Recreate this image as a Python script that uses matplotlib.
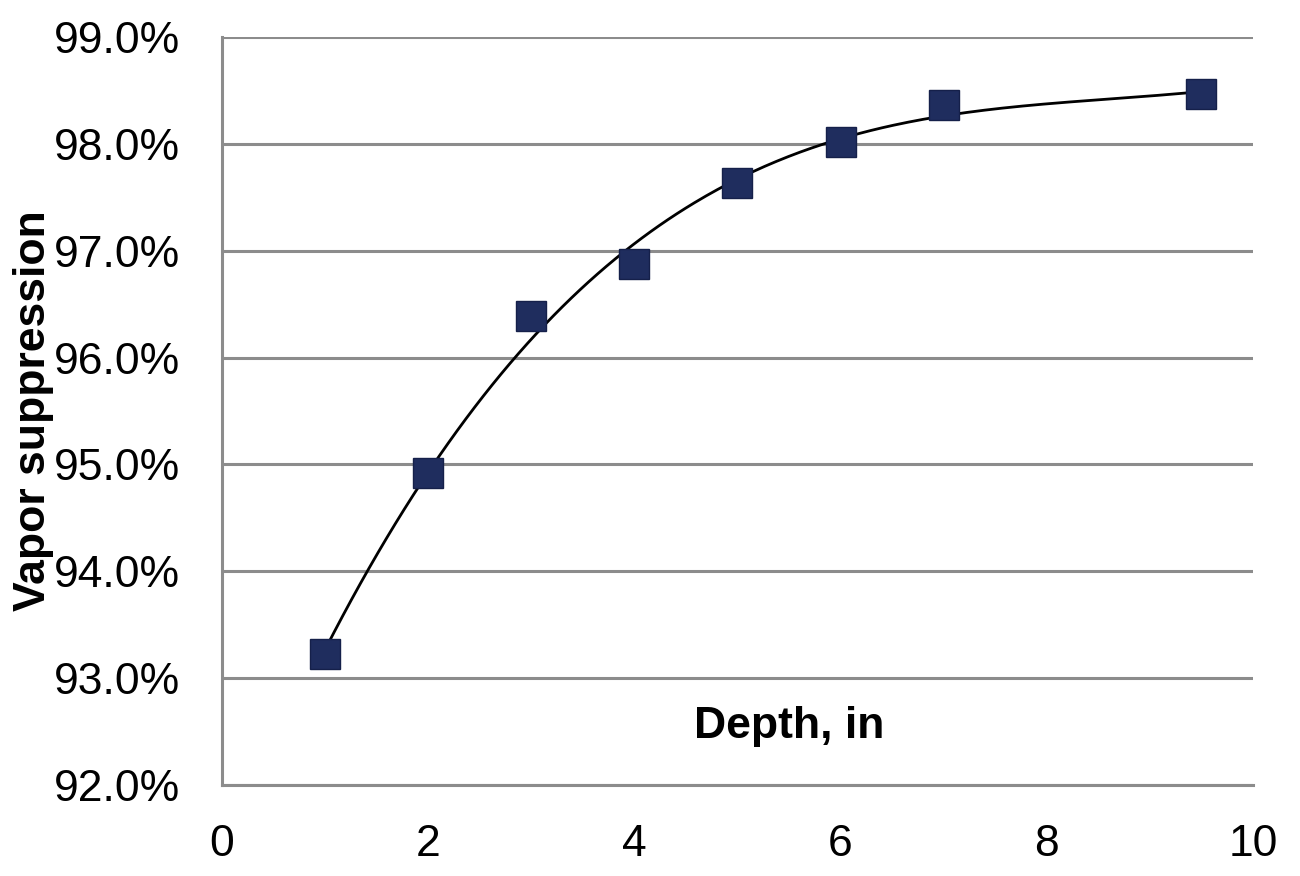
import numpy as np
import matplotlib as mpl
from matplotlib import pyplot as plt
from matplotlib.ticker import FuncFormatter

mpl.rcParams['font.family'] = ['Liberation Sans', 'DejaVu Sans']

# data
depth = [1, 2, 3, 4, 5, 6, 7, 9.5]
suppression = [93.23, 94.92, 96.39, 96.88, 97.63, 98.02, 98.36, 98.47]

x_ticks = [0, 2, 4, 6, 8, 10]
y_ticks = [92, 93, 94, 95, 96, 97, 98, 99]

grid_color = '#8c8c8c'
marker_color = '#1f2d5e'

fig = plt.figure(figsize=(13, 8.76), dpi=100)
ax = fig.add_axes([0.1708, 0.1039, 0.7930, 0.8539])

# trendline fitted to the data (polynomial, like the spreadsheet one)
coef = np.polyfit(depth, suppression, 3)
xs = np.linspace(min(depth), max(depth), 300)
ax.plot(xs, np.polyval(coef, xs), color='black', linewidth=2, zorder=3)

ax.plot(depth, suppression, linestyle='none', marker='s', markersize=21,
        markerfacecolor=marker_color, markeredgecolor='#15204a',
        markeredgewidth=1, zorder=4)

ax.set_xlim(0, 10)
ax.set_ylim(92, 99)
ax.set_xticks(x_ticks)
ax.set_yticks(y_ticks)
ax.yaxis.set_major_formatter(FuncFormatter(lambda v, p: f'{v:.1f}%'))

ax.grid(axis='y', color=grid_color, linewidth=2.2)
ax.set_axisbelow(True)
for side in ['top', 'right']:
    ax.spines[side].set_visible(False)
for side in ['left', 'bottom']:
    ax.spines[side].set_color(grid_color)
    ax.spines[side].set_linewidth(2.2)

ax.tick_params(axis='both', length=0, labelsize=32)
ax.tick_params(axis='y', pad=30)
ax.tick_params(axis='x', pad=28)

ax.set_ylabel('Vapor suppression', fontsize=32, fontweight='bold')
ax.yaxis.set_label_coords(-0.163, 0.5)
ax.text(5.5, 92.55, 'Depth, in', fontsize=32, fontweight='bold',
        ha='center', va='center')

fig.savefig('out.png', dpi=100)
